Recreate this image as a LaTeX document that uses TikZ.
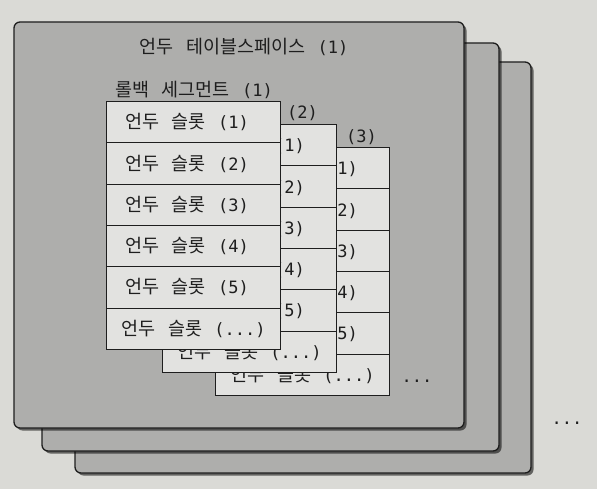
\documentclass[tikz,border=0pt]{standalone}
\usepackage{fontspec}
\setmainfont{Noto Sans CJK KR}[WordSpace=3]
\newfontfamily\latf{DejaVu Sans Mono}
\usetikzlibrary{shadows}
\definecolor{bg}{RGB}{218,218,214}
\definecolor{panel}{RGB}{174,174,172}
\definecolor{slotfill}{RGB}{226,226,224}
\definecolor{ink}{RGB}{30,30,30}
\newcommand\mytdots{...}
\newcommand\lt[1]{{\latf\fontsize{17}{19}\selectfont #1}}
\begin{document}
\begin{tikzpicture}[x=1pt,y=-1pt,
  panelbox/.style={draw=ink, line width=1.3pt, fill=panel, rounded corners=6pt,
    drop shadow={shadow xshift=2.5pt, shadow yshift=-2.5pt, opacity=0.55, fill=black}},
  slot/.style={draw=ink, line width=1.2pt, fill=slotfill, minimum width=174pt,
    minimum height=41.3pt, anchor=north west, inner sep=0pt,
    font=\fontsize{18.5}{20}\selectfont, text=ink},
  lbl/.style={font=\fontsize{18.5}{20}\selectfont, inner sep=0pt, text=ink},
  dotsl/.style={font=\latf\fontsize{17}{19}\selectfont, inner sep=0pt, text=ink}]
\useasboundingbox (0,0) rectangle (597,489);
\fill[bg] (0,0) rectangle (597,489);
% tablespace panels (back to front)
\path[panelbox] (75,62) rectangle (531,473);
\path[panelbox] (42,43) rectangle (499,451);
\path[panelbox] (14,22) rectangle (464,428);
\node[lbl] (title) at (244,47) {언두 테이블스페이스 \lt{(1)}};
% rollback segments (back to front)
\foreach \s/\x/\y/\lx/\ly in {3/215/147/377/136, 2/162/124/318/112, 1/106/101/273/90} {
  \node[lbl, anchor=east] (lab\s) at (\lx,\ly) {롤백 세그먼트 \lt{(\s)}};
  \foreach \r/\t/\h in {1/1/-13pt,2/2/-13pt,3/3/-13pt,4/4/-13pt,5/5/-13pt,6/\mytdots/0pt}
    \node[slot] (s\s r\r) at (\x,\y+41.3*\r-41.3) {\hspace*{\h}언두 슬롯 \lt{(\t)}};
}
\node[dotsl] (dotsin) at (417,381) {\mytdots};
\node[dotsl] (dotsout) at (567,423) {\mytdots};
\end{tikzpicture}
\end{document}
